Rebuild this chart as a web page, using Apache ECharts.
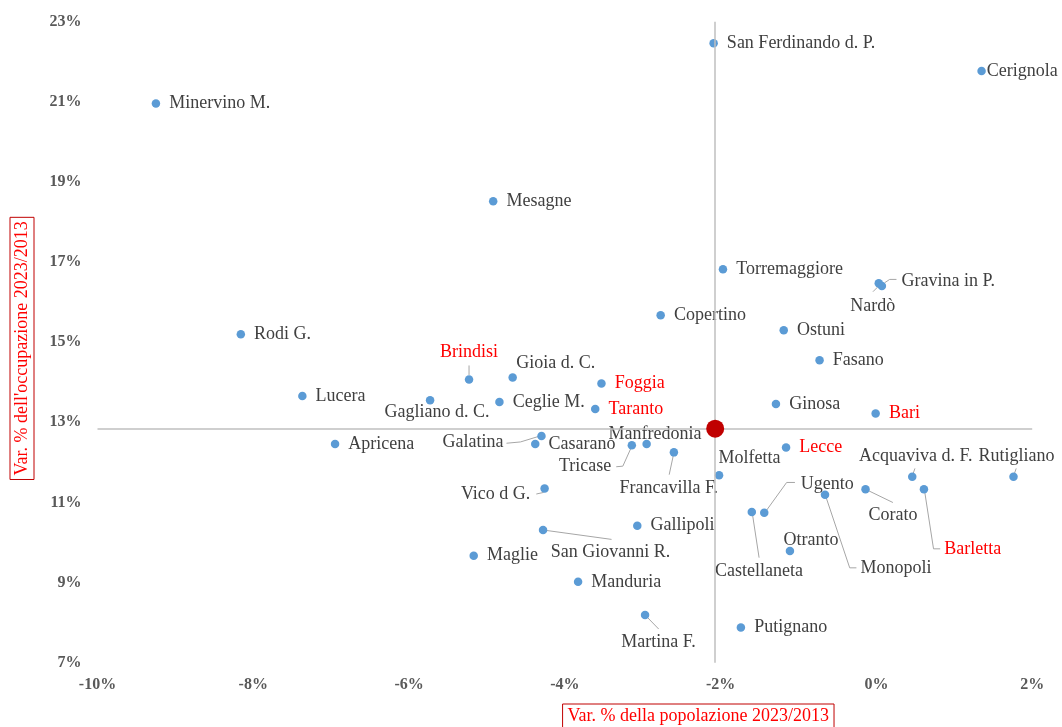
<!DOCTYPE html>
<html>
<head>
<meta charset="utf-8">
<script src="https://cdn.jsdelivr.net/npm/echarts@6/dist/echarts.min.js"></script>
<style>html,body{margin:0;padding:0;background:#fff;}#c{width:1062px;height:727px;}</style>
</head>
<body>
<div id="c"></div>
<script>
// ---- data ----
var names = ['Minervino M.','Mesagne','San Ferdinando d. P.','Cerignola','Rodi G.','Lucera','Apricena','Brindisi','Gioia d. C.','Gagliano d. C.','Ceglie M.','Torremaggiore','Nardò','Gravina in P.','Copertino','Ostuni','Fasano','Foggia','Taranto','Ginosa','Bari','Galatina','Casarano','Tricase','Manfredonia','Francavilla F.','Lecce','Molfetta','Acquaviva d. F.','Rutigliano','Vico d G.','Corato','Barletta','Monopoli','Castellaneta','Ugento','Gallipoli','San Giovanni R.','Otranto','Manduria','Martina F.','Putignano','Maglie'];
var popChange = [-9.25,-4.92,-2.09,1.35,-8.16,-7.37,-6.95,-5.23,-4.67,-5.73,-4.84,-1.97,0.03,0.07,-2.77,-1.19,-0.73,-3.53,-3.61,-1.29,-0.01,-4.30,-4.38,-3.14,-2.95,-2.60,-1.16,-2.02,0.46,1.76,-4.26,-0.14,0.61,-0.66,-1.60,-1.44,-3.07,-4.28,-1.11,-3.83,-2.97,-1.74,-5.17];
var empChange = [20.96,18.52,22.46,21.77,15.20,13.66,12.46,14.07,14.12,13.55,13.51,16.82,16.47,16.40,15.67,15.30,14.55,13.97,13.33,13.46,13.22,12.66,12.46,12.43,12.46,12.25,12.37,11.68,11.64,11.64,11.35,11.33,11.33,11.19,10.76,10.74,10.42,10.31,9.79,9.02,8.19,7.88,9.67];
var capitals = ['Brindisi','Foggia','Taranto','Bari','Lecce','Barletta'];
var regionPoint = [-2.07, 12.84];
var xTicks = {min:-10, max:2, interval:2};
var yTicks = {min:7, max:23, interval:2};
var xTitle = 'Var. % della popolazione 2023/2013';
var yTitle = "Var. % dell'occupazione 2023/2013";

// ---- label placement (pixel offsets from the marker; styling only) ----
// [dx, dy, align, leaderPoints]
var labelPlacement = {
  'Brindisi': [0,-27,'center',[[0,-14],[0,-4.5]]],
  'Gioia d. C.': [43,-14.6,'center'],
  'Gagliano d. C.': [7,11.5,'center'],
  'Galatina': [-38,6.6,'right',[[-35,7.3],[-21,6],[-3,0.5]]],
  'Manfredonia': [8.3,-9.3,'center'],
  'Tricase': [-20.6,21.6,'right',[[-15.6,21.6],[-9,21],[0,1]]],
  'Francavilla F.': [-5.2,36.3,'center',[[0,0.3],[-4.7,22.3]]],
  'Molfetta': [30.4,-17.3,'center'],
  'Acquaviva d. F.': [3.5,-21,'center',[[0.7,-2.7],[2.7,-8.4]]],
  'Rutigliano': [3,-21,'center',[[0.7,-2.7],[2.7,-8.4]]],
  'Vico d G.': [-14.3,6.3,'right',[[-8.3,5.6],[-1,4]]],
  'Corato': [27.5,26,'center',[[1.4,0.7],[27.4,13.3]]],
  'Barletta': [20.3,59.6,'left',[[0.6,1.3],[9.6,59.6],[16.3,59.6]]],
  'Monopoli': [35.4,73,'left',[[0.7,1.4],[24.7,73],[31.4,73]]],
  'Ugento': [36.4,-28.4,'left',[[2.4,-2.7],[22.4,-30.4],[30.7,-30.4]]],
  'Castellaneta': [7.1,59,'center',[[0.6,1.6],[7.3,45.6]]],
  'Otranto': [21,-10.3,'center'],
  'San Giovanni R.': [67.5,21.7,'center',[[0.7,0],[68.5,9.3]]],
  'Martina F.': [13.4,27.3,'center',[[0,0],[13.6,14]]],
  'Gravina in P.': [19.7,-5.3,'left',[[2.7,-3.3],[7.8,-6.7],[14.6,-6.7]]],
  'Nardò': [-6,23.4,'center',[[-5.8,8.4],[-0.8,3.4]]]
};

var FONT = '"Liberation Serif", "Times New Roman", serif';
var chart = echarts.init(document.getElementById('c'));

var points = names.map(function(n,i){
  return {
    name: n,
    value: [popChange[i], empChange[i]],
    label: {
      color: capitals.indexOf(n) >= 0 ? '#FF0000' : '#404040',
      distance: n === 'Cerignola' ? 1 : 9
    }
  };
});
var lineData = names.map(function(n,i){ return [popChange[i], empChange[i]]; });

var axisLabelStyle = {color:'#595959', fontWeight:'bold', fontFamily:FONT, fontSize:16};

chart.setOption({
  animation: false,
  grid: {left:97.5, right:29.8, top:21.7, bottom:64.3, containLabel:false},
  xAxis: {
    type:'value', min:xTicks.min, max:xTicks.max, interval:xTicks.interval,
    axisLine:{show:false}, axisTick:{show:false}, splitLine:{show:false},
    axisLabel: Object.assign({margin:14, formatter:function(v){return v+'%';}}, axisLabelStyle)
  },
  yAxis: {
    type:'value', min:yTicks.min, max:yTicks.max, interval:yTicks.interval,
    axisLine:{show:false}, axisTick:{show:false}, splitLine:{show:false},
    axisLabel: Object.assign({margin:16, formatter:function(v){return v+'%';}}, axisLabelStyle)
  },
  graphic: [
    {type:'text', x:698.3, y:716, z:10, style:{text:xTitle, fill:'#FF0000', font:'18px ' + FONT, align:'center', verticalAlign:'middle', borderColor:'#C00000', borderWidth:1, padding:[3,5,3,5]}},
    {type:'text', x:22, y:348.4, rotation:Math.PI/2, z:10, style:{text:yTitle, fill:'#FF0000', font:'18px ' + FONT, align:'center', verticalAlign:'middle', borderColor:'#C00000', borderWidth:1, padding:[3,4,3,4]}}
  ],
  series: [
    {
      type:'custom', z:1, silent:true,
      data: lineData,
      encode:{x:0, y:1},
      renderItem: function(params, api){
        var L = labelPlacement[names[params.dataIndex]];
        if (!L || !L[3]) return {type:'group', children:[]};
        var c = api.coord([api.value(0), api.value(1)]);
        return {
          type:'polyline',
          shape:{points: L[3].map(function(p){return [c[0]+p[0], c[1]+p[1]];})},
          style:{stroke:'#A6A6A6', lineWidth:1, fill:null}
        };
      },
      markLine: {
        silent:true, symbol:['none','none'], animation:false,
        label:{show:false},
        lineStyle:{color:'#BFBFBF', type:'solid', width:1.5},
        data:[{xAxis:regionPoint[0]},{yAxis:regionPoint[1]}]
      }
    },
    {
      type:'scatter', z:3,
      symbolSize:8.5,
      itemStyle:{color:'#5B9BD5', opacity:1},
      data: points,
      label: {show:true, position:'right', formatter:'{b}', fontFamily:FONT, fontSize:18},
      labelLayout: function(p){
        var L = labelPlacement[names[p.dataIndex]];
        if (!L) return {};
        var cx = p.rect.x + p.rect.width/2, cy = p.rect.y + p.rect.height/2;
        return {x: cx + L[0], y: cy + L[1], align: L[2], verticalAlign:'middle'};
      }
    },
    {
      type:'scatter', z:5,
      symbolSize:18,
      itemStyle:{color:'#C00000', opacity:1},
      data:[regionPoint]
    }
  ]
});
</script>
</body>
</html>
